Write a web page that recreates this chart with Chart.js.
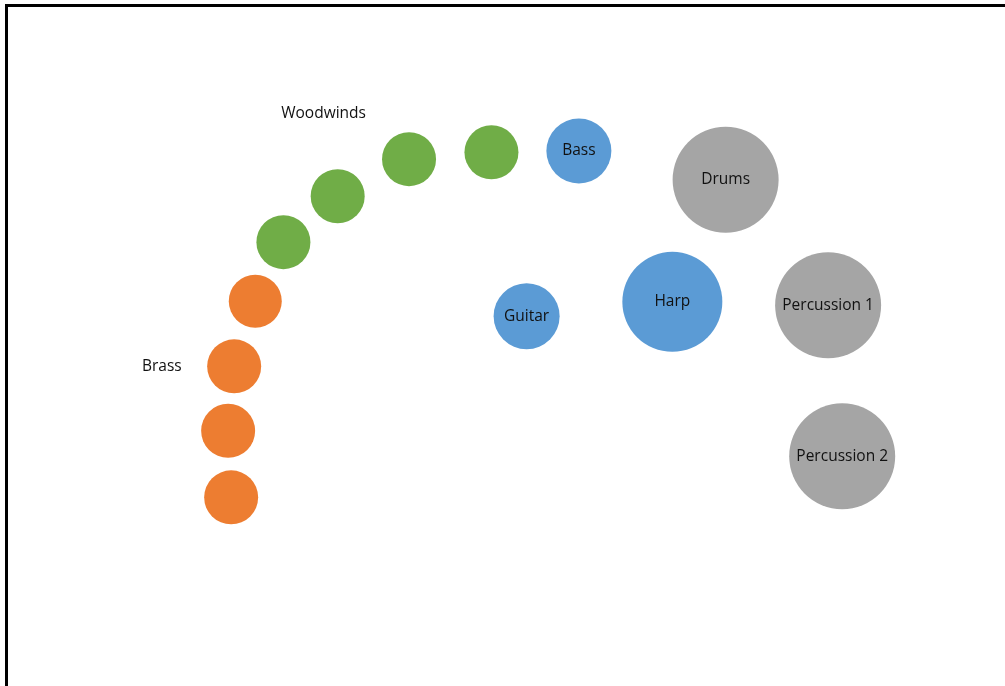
<!DOCTYPE html>
<html lang="en">
<head>
    <meta charset="UTF-8">
    <title>Band Layout</title>
    <style>
        * {
            margin: 0;
            padding: 0;
            box-sizing: border-box;
        }

        body {
            background-color: #ffffff;
            width: 1005px;
            height: 686px;
            overflow: hidden;
            position: relative;
        }

        .frame {
            position: absolute;
            left: 5px;
            top: 4px;
            width: 1100px;
            height: 800px;
            border: 3px solid #000;
            pointer-events: none;
        }

        .chart-box {
            position: absolute;
            left: 0;
            top: 0;
            width: 1005px;
            height: 686px;
        }
    </style>
    <script src="https://cdn.jsdelivr.net/npm/chart.js@4.4.1/dist/chart.umd.min.js"></script>
</head>
<body>
    <div class="chart-box">
        <canvas id="stageChart"></canvas>
    </div>
    <div class="frame"></div>

    <script>
        // Sample data (stage positions, bubble size = r)
        const brassX = [25.4, 23.3, 22.7, 23.0];
        const brassY = [56.1, 46.6, 37.2, 27.5];
        const brassR = [26.5, 27, 27, 27];

        const woodwindX = [28.2, 33.6, 40.7, 48.9];
        const woodwindY = [64.7, 71.4, 76.8, 77.8];
        const woodwindR = [27, 27, 27, 27];

        const stringNames = ['Bass', 'Guitar', 'Harp'];
        const stringX = [57.6, 52.4, 66.9];
        const stringY = [78.0, 53.9, 56.0];
        const stringR = [32.5, 33, 50];

        const percNames = ['Drums', 'Percussion 1', 'Percussion 2'];
        const percX = [72.2, 82.4, 83.8];
        const percY = [73.8, 55.5, 33.5];
        const percR = [53, 53, 53];

        const groupNames = ['Woodwinds', 'Brass'];
        const groupX = [32.2, 16.1];
        const groupY = [83.5, 46.6];

        const toPoints = (xs, ys, rs) => xs.map((x, i) => ({ x: x, y: ys[i], r: rs[i] }));

        // Draw names inside bubbles and the group captions
        const labelPlugin = {
            id: 'stageLabels',
            afterDatasetsDraw(chart) {
                const ctx = chart.ctx;
                ctx.save();
                ctx.font = '15.5px "Open Sans", sans-serif';
                ctx.fillStyle = '#111';
                ctx.textAlign = 'center';
                ctx.textBaseline = 'middle';
                chart.data.datasets.forEach((ds, di) => {
                    if (!ds.names) return;
                    chart.getDatasetMeta(di).data.forEach((pt, i) => {
                        ctx.fillText(ds.names[i], pt.x, pt.y);
                    });
                });
                const xs = chart.scales.x, ys = chart.scales.y;
                groupNames.forEach((name, i) => {
                    ctx.fillText(name, xs.getPixelForValue(groupX[i]), ys.getPixelForValue(groupY[i]));
                });
                ctx.restore();
            }
        };

        const stageChart = new Chart(document.getElementById('stageChart'), {
            type: 'bubble',
            data: {
                datasets: [
                    { label: 'Brass', data: toPoints(brassX, brassY, brassR), backgroundColor: '#ED7D31', borderWidth: 0 },
                    { label: 'Woodwinds', data: toPoints(woodwindX, woodwindY, woodwindR), backgroundColor: '#70AD47', borderWidth: 0 },
                    { label: 'Strings', names: stringNames, data: toPoints(stringX, stringY, stringR), backgroundColor: '#5B9BD5', borderWidth: 0 },
                    { label: 'Percussion', names: percNames, data: toPoints(percX, percY, percR), backgroundColor: '#A5A5A5', borderWidth: 0 }
                ]
            },
            options: {
                responsive: true,
                maintainAspectRatio: false,
                animation: false,
                layout: { padding: 0, autoPadding: false },
                plugins: {
                    legend: { display: false },
                    tooltip: { enabled: false }
                },
                scales: {
                    x: { display: false, min: 0, max: 100 },
                    y: { display: false, min: 0, max: 100 }
                }
            },
            plugins: [labelPlugin]
        });
    </script>
</body>
</html>
